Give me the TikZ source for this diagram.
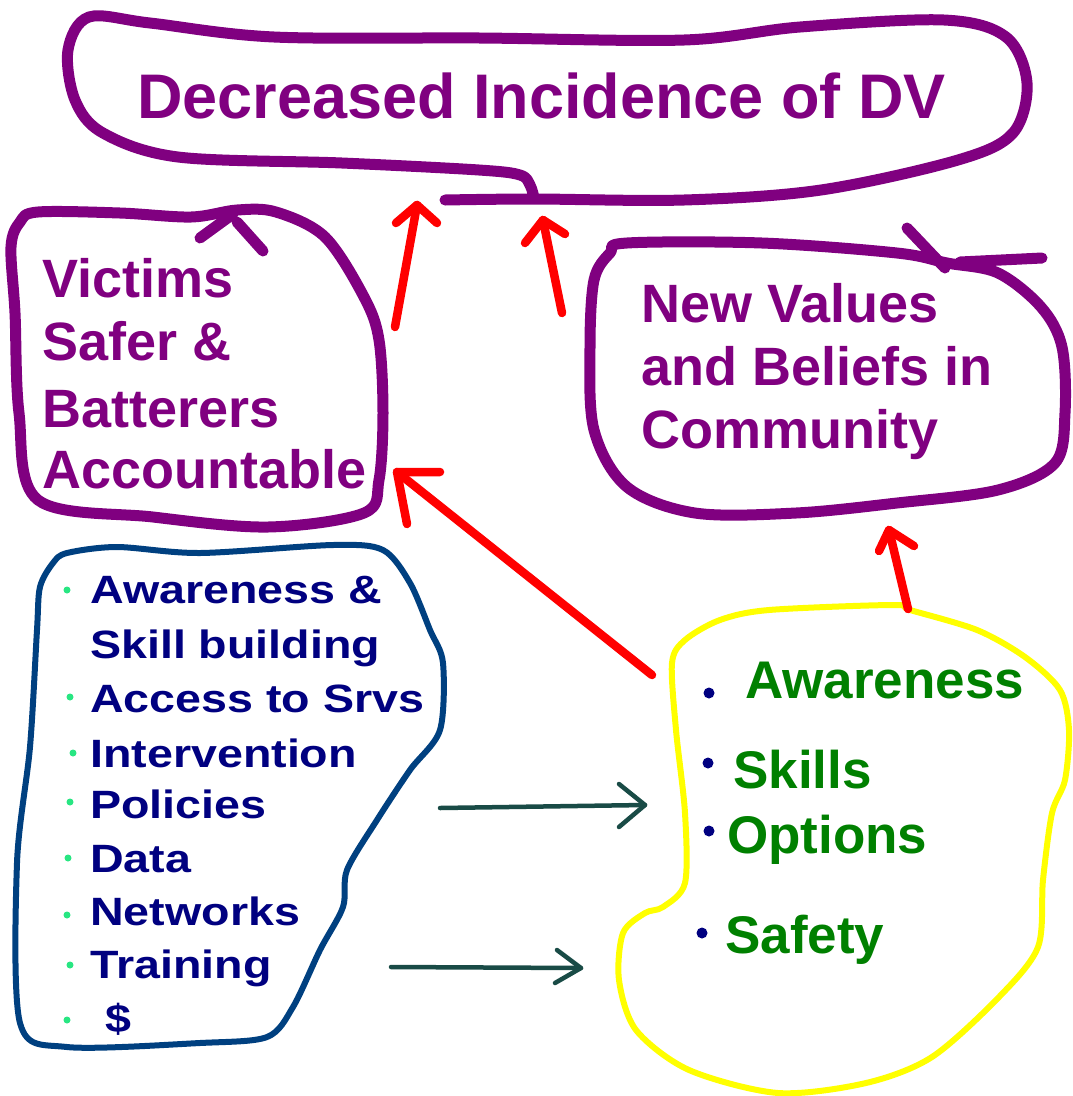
\documentclass[tikz,border=0pt]{standalone}
\usepackage{fontspec}
\setmainfont{Liberation Sans}
\newfontfamily\wideFont[FakeStretch=1.18]{Liberation Sans}
\usetikzlibrary{arrows.meta}
\definecolor{pur}{RGB}{128,0,128}
\definecolor{navyT}{RGB}{0,0,128}
\definecolor{blueLine}{RGB}{0,64,128}
\definecolor{greenT}{RGB}{0,128,0}
\definecolor{dotGreen}{RGB}{40,230,130}
\definecolor{tealA}{RGB}{25,75,70}
\definecolor{yel}{RGB}{255,255,0}
\definecolor{redA}{RGB}{255,0,0}
\tikzset{
  pstroke/.style={draw=pur, line width=11pt},
  bstroke/.style={draw=blueLine, line width=6pt},
  ystroke/.style={draw=yel, line width=6pt},
  redarrow/.style={draw=redA, line width=8.5pt},
  tealarrow/.style={draw=tealA, line width=4.5pt},
  purtext/.style={anchor=base west, inner sep=0pt, text=pur, font=\fontsize{54}{54}\selectfont\bfseries},
  titletext/.style={anchor=base west, inner sep=0pt, text=pur, font=\fontsize{63}{63}\selectfont\bfseries},
  bluetext/.style={anchor=base west, inner sep=0pt, text=navyT, font=\wideFont\fontsize{39.5}{39.5}\selectfont\bfseries},
  greentext/.style={anchor=base west, inner sep=0pt, text=greenT, font=\fontsize{53}{53}\selectfont\bfseries},
  gdot/.style={circle, fill=dotGreen, inner sep=0pt, minimum size=7pt},
  ndot/.style={circle, fill=navyT, inner sep=0pt, minimum size=11pt}
}
\begin{document}
\begin{tikzpicture}[x=1pt,y=-1pt, line cap=round, line join=round]
\useasboundingbox (0,0) rectangle (1073,1096);
\fill[white] (0,0) rectangle (1073,1096);

% top bubble
\draw[pstroke] plot[smooth, tension=0.55] coordinates {(445,200) (534,199) (684,200) (821,190) (958,160) (1013,133) (1027,83) (1006,37) (944,20) (800,27) (684,40) (480,38) (274,37) (150,23) (89,17) (68,50) (75,100) (103,133) (178,157) (342,163) (479,170) (520,175) (530,185) (534,198)};
\node[titletext] (title) at (137,118) {Decreased Incidence of DV};

% victims box
\draw[pstroke] plot[smooth cycle, tension=0.55] coordinates {(38,212) (120,213) (191,217) (237,210) (276,212) (325,237) (364,297) (379,340) (383,413) (379,480) (364,513) (268,527) (153,517) (38,500) (19,413) (15,313) (11,247) (20,222)};
\draw[pstroke] (200,238) -- (233,214);
\draw[pstroke] (237,222) -- (263,251);
\node[purtext] (v1) at (42,297) {Victims};
\node[purtext] (v2) at (42,360) {Safer \&};
\node[purtext] (v3) at (42,427) {Batterers};
\node[purtext] (v4) at (42,488) {Accountable};

% new values box
\draw[pstroke] plot[smooth cycle, tension=0.55] coordinates {(627,243) (762,243) (897,253) (947,263) (998,273) (1041,307) (1062,347) (1065,413) (1055,463) (998,490) (897,503) (796,513) (695,513) (627,487) (594,430) (590,347) (594,280) (610,253)};
\draw[pstroke] (907,228) -- (945,268);
\draw[pstroke] (960,262) -- (1042,258);
\node[purtext] (n1) at (641,322) {New Values};
\node[purtext] (n2) at (641,385) {and Beliefs in};
\node[purtext] (n3) at (641,448) {Community};

% blue box
\draw[bstroke] plot[smooth cycle, tension=0.5] coordinates {(67,553) (117,547) (200,553) (333,545) (383,550) (410,583) (430,630) (443,663) (440,730) (410,770) (377,820) (347,870) (343,907) (320,950) (293,1007) (267,1037) (200,1043) (67,1047) (20,1023) (17,863) (30,747) (37,630) (40,587) (53,563)};
\node[bluetext] (l1) at (90,603) {Awareness \&};
\node[bluetext] (l2) at (90,658) {Skill building};
\node[bluetext] (l3) at (90,712) {Access to Srvs};
\node[bluetext] (l4) at (90,767) {Intervention};
\node[bluetext] (l5) at (90,818) {Policies};
\node[bluetext] (l6) at (90,872) {Data};
\node[bluetext] (l7) at (90,925) {Networks};
\node[bluetext] (l8) at (90,978) {Training};
\node[bluetext] (l9) at (105,1032) {\$};
\node[gdot] (d1) at (67,590) {};
\node[gdot] (d3) at (70,697) {};
\node[gdot] (d4) at (73,753) {};
\node[gdot] (d5) at (70,802) {};
\node[gdot] (d6) at (68,858) {};
\node[gdot] (d7) at (67,915) {};
\node[gdot] (d8) at (70,965) {};
\node[gdot] (d9) at (67,1020) {};

% yellow blob
\draw[ystroke] plot[smooth cycle, tension=0.5] coordinates {(769,610) (893,605) (910,610) (977,630) (1025,657) (1060,690) (1069,730) (1065,780) (1052,813) (1043,880) (1038,947) (999,997) (932,1057) (866,1083) (778,1093) (689,1070) (636,1030) (619,980) (623,933) (645,913) (663,907) (685,883) (685,813) (676,730) (672,663) (685,640) (720,620)};
\node[greentext] (g1) at (745,698) {Awareness};
\node[greentext] (g2) at (733,788) {Skills};
\node[greentext] (g3) at (727,853) {Options};
\node[greentext] (g4) at (725,953) {Safety};
\node[ndot] (nd1) at (709,693) {};
\node[ndot] (nd2) at (708,763) {};
\node[ndot] (nd3) at (709,831) {};
\node[ndot] (nd4) at (702,933) {};

% red arrows
\coordinate (r1s) at (395,327); \coordinate (r1t) at (417,205);
\coordinate (r1a) at (396,223); \coordinate (r1b) at (437,223);
\draw[redarrow] (r1s) -- (r1t);
\draw[redarrow] (r1a) -- (r1t) -- (r1b);

\coordinate (r2s) at (562,313); \coordinate (r2t) at (543,220);
\coordinate (r2a) at (525,243); \coordinate (r2b) at (565,234);
\draw[redarrow] (r2s) -- (r2t);
\draw[redarrow] (r2a) -- (r2t) -- (r2b);

\coordinate (r3s) at (652,675); \coordinate (r3t) at (397,472);
\coordinate (r3a) at (440,472); \coordinate (r3b) at (407,524);
\draw[redarrow] (r3s) -- (r3t);
\draw[redarrow] (r3a) -- (r3t) -- (r3b);

\coordinate (r4s) at (908,609); \coordinate (r4t) at (889,530);
\coordinate (r4a) at (879,551); \coordinate (r4b) at (914,546);
\draw[redarrow] (r4s) -- (r4t);
\draw[redarrow] (r4a) -- (r4t) -- (r4b);

% teal arrows
\coordinate (t1s) at (440,808); \coordinate (t1e) at (645,805);
\coordinate (t1a) at (619,784); \coordinate (t1b) at (619,827);
\draw[tealarrow] (t1s) -- (t1e);
\draw[tealarrow] (t1a) -- (t1e) -- (t1b);
\coordinate (t2s) at (391,967); \coordinate (t2e) at (581,968);
\coordinate (t2a) at (557,950); \coordinate (t2b) at (555,983);
\draw[tealarrow] (t2s) -- (t2e);
\draw[tealarrow] (t2a) -- (t2e) -- (t2b);
\end{tikzpicture}
\end{document}
